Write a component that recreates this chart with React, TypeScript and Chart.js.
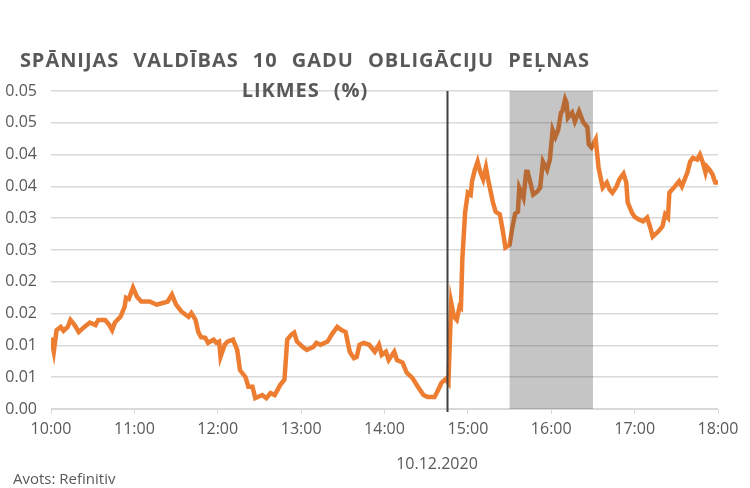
import React, { useEffect, useRef } from "react";
import { Chart, registerables } from "chart.js";

Chart.register(...registerables);

// minutes after 10:00 (10.12.2020)
const minutes = [
  0, 2, 4, 7, 9, 12, 14, 17, 20, 24, 28, 32, 34, 39, 42, 44, 46, 50, 53, 54, 56, 59, 62, 65, 71, 76, 81, 84, 87, 90,
  94, 99, 101, 104, 106, 108, 111, 113, 117, 119, 121, 122, 125, 127, 131, 134, 136, 140, 142, 145, 147, 152, 155,
  158, 161, 165, 168, 170, 173, 175, 177, 181, 184, 189, 191, 194, 199, 202, 206, 209, 212, 215, 218, 220, 222, 225,
  229, 233, 236, 238, 241, 243, 247, 249, 253, 256, 260, 264, 268, 271, 276, 278, 281, 284, 286, 288, 290, 292, 294,
  295, 296, 298, 300, 302, 303, 305, 307, 309, 311, 313, 315, 318, 320, 323, 325, 327, 330, 332, 334, 336, 337, 340,
  342, 343, 345, 347, 350, 352, 354, 357, 359, 361, 363, 365, 367, 368, 370, 371, 372, 375, 377, 380, 383, 386, 387,
  389, 392, 394, 397, 400, 402, 404, 407, 409, 412, 414, 415, 418, 420, 423, 426, 429, 431, 433, 437, 440, 442, 444,
  445, 449, 452, 454, 456, 458, 460, 462, 465, 467, 469, 471, 472, 474, 476, 478, 480,
];

const yields = [
  0.0112, 0.009, 0.0124, 0.0129, 0.0123, 0.0129, 0.014, 0.0132, 0.0121, 0.0129, 0.0136, 0.0132, 0.014, 0.014, 0.0132,
  0.0124, 0.0136, 0.0145, 0.0161, 0.0175, 0.0173, 0.0191, 0.0176, 0.0169, 0.0169, 0.0164, 0.0167, 0.0169, 0.018,
  0.0164, 0.0153, 0.0145, 0.0151, 0.014, 0.0121, 0.0113, 0.0112, 0.0104, 0.0109, 0.0104, 0.0106, 0.0082, 0.0101,
  0.0106, 0.0109, 0.0093, 0.0061, 0.005, 0.0035, 0.0035, 0.0017, 0.0022, 0.0017, 0.0025, 0.0022, 0.0038, 0.0046,
  0.0109, 0.0117, 0.012, 0.0106, 0.0098, 0.0093, 0.0098, 0.0104, 0.0101, 0.0106, 0.0117, 0.0129, 0.0124, 0.0121,
  0.009, 0.008, 0.0082, 0.0101, 0.0104, 0.0101, 0.009, 0.0101, 0.0085, 0.009, 0.0077, 0.009, 0.0077, 0.0073, 0.0057,
  0.0049, 0.0035, 0.0022, 0.0019, 0.0019, 0.0027, 0.0041, 0.0047, 0.0041, 0.0167, 0.0145, 0.014, 0.0161, 0.0159,
  0.0235, 0.0309, 0.034, 0.0337, 0.0358, 0.0376, 0.0389, 0.0372, 0.0361, 0.038, 0.0356, 0.0325, 0.031, 0.0306,
  0.0282, 0.0254, 0.0258, 0.0285, 0.0307, 0.031, 0.0348, 0.0332, 0.0373, 0.0373, 0.0356, 0.0337, 0.0342, 0.0348,
  0.0389, 0.0376, 0.0392, 0.0439, 0.0428, 0.0439, 0.0466, 0.0468, 0.0487, 0.0482, 0.0458, 0.0466, 0.0452, 0.0468,
  0.0451, 0.0443, 0.0416, 0.0411, 0.0424, 0.038, 0.0348, 0.0356, 0.0345, 0.034, 0.035, 0.0361, 0.037, 0.0356,
  0.0325, 0.0309, 0.0302, 0.0298, 0.0295, 0.0301, 0.0287, 0.0271, 0.0279, 0.0287, 0.0306, 0.0301, 0.034, 0.035,
  0.0358, 0.035, 0.0361, 0.0372, 0.0389, 0.0395, 0.0392, 0.04, 0.0388, 0.0372, 0.0381, 0.0376, 0.0369, 0.0356,
  0.0356,
];

const xTickLabels = ["10:00", "11:00", "12:00", "13:00", "14:00", "15:00", "16:00", "17:00", "18:00"];
const yTickLabels = ["0.00", "0.01", "0.01", "0.02", "0.02", "0.03", "0.03", "0.04", "0.04", "0.05", "0.05"];

const markerMinute = 285; // 14:45
const bandStart = 330; // 15:30
const bandEnd = 390; // 16:30

const titleLine1 = "SPĀNIJAS VALDĪBAS 10 GADU OBLIGĀCIJU PEĻNAS";
const titleLine2 = "LIKMES (%)";
const dateLabel = "10.12.2020";
const sourceLabel = "Avots: Refinitiv";

const overlayPlugin = {
  id: "overlay",
  afterDatasetsDraw(chart: any) {
    const { ctx, chartArea, scales } = chart;
    const x = scales.x;
    ctx.save();
    const b0 = x.getPixelForValue(bandStart);
    const b1 = x.getPixelForValue(bandEnd);
    ctx.fillStyle = "rgba(64,64,64,0.3)";
    ctx.fillRect(b0, chartArea.top, b1 - b0, chartArea.bottom - chartArea.top);
    const m = Math.round(x.getPixelForValue(markerMinute)) + 0.5;
    ctx.strokeStyle = "#404040";
    ctx.lineWidth = 2;
    ctx.beginPath();
    ctx.moveTo(m, chartArea.top);
    ctx.lineTo(m, chartArea.bottom + 3);
    ctx.stroke();
    ctx.restore();
  },
};

export default function App() {
  const ref = useRef<HTMLCanvasElement>(null);

  useEffect(() => {
    if (!ref.current) return;
    const tickFont = { family: "'Open Sans', sans-serif", size: 16 };
    const chart = new Chart(ref.current, {
      type: "line",
      data: {
        datasets: [
          {
            data: minutes.map((m, i) => ({ x: m, y: yields[i] })),
            borderColor: "#ED7D31",
            borderWidth: 4.5,
            pointRadius: 0,
            tension: 0,
            fill: false,
          },
        ],
      },
      options: {
        responsive: false,
        animation: false,
        devicePixelRatio: 1,
        layout: { padding: { top: 91, right: 32, left: 0, bottom: 0 } },
        plugins: { legend: { display: false }, tooltip: { enabled: false }, title: { display: false } },
        scales: {
          x: {
            type: "linear",
            min: 0,
            max: 480,
            afterFit: (s: any) => {
              s.height = 79;
            },
            ticks: {
              stepSize: 60,
              autoSkip: false,
              maxRotation: 0,
              padding: 6,
              color: "#595959",
              font: tickFont,
              callback: (_v: any, i: number) => xTickLabels[i],
            },
            grid: { drawOnChartArea: false, drawTicks: true, tickLength: 5, color: "#d9d9d9" },
            border: { color: "#d9d9d9" },
          },
          y: {
            min: 0,
            max: 0.05,
            afterFit: (s: any) => {
              s.width = 51;
            },
            ticks: {
              stepSize: 0.005,
              padding: 14,
              color: "#595959",
              font: tickFont,
              callback: (_v: any, i: number) => yTickLabels[i],
            },
            grid: { color: "#d9d9d9", lineWidth: 1.5, drawTicks: false },
            border: { display: false },
          },
        },
      },
      plugins: [overlayPlugin],
    });
    return () => chart.destroy();
  }, []);

  const textColor = "#595959";
  return (
    <div style={{ position: "fixed", left: 0, top: 0, width: 750, height: 488, background: "#fff", overflow: "hidden" }}>
      <canvas ref={ref} width={750} height={488} style={{ position: "absolute", left: 0, top: 0 }} />
      <div
        style={{
          position: "absolute",
          left: 0,
          top: 45,
          width: 610,
          textAlign: "center",
          fontFamily: "'Open Sans', sans-serif",
          fontWeight: 700,
          fontSize: 20,
          lineHeight: "30px",
          letterSpacing: 0.95,
          wordSpacing: 8,
          color: textColor,
          whiteSpace: "nowrap",
        }}
      >
        <div>{titleLine1}</div>
        <div>{titleLine2}</div>
      </div>
      <div
        style={{
          position: "absolute",
          left: 337,
          top: 452,
          width: 200,
          textAlign: "center",
          fontFamily: "'Open Sans', sans-serif",
          fontSize: 16,
          lineHeight: "22px",
          color: textColor,
        }}
      >
        {dateLabel}
      </div>
      <div
        style={{
          position: "absolute",
          left: 13,
          top: 467,
          fontFamily: "'Open Sans', sans-serif",
          fontSize: 15,
          lineHeight: "22px",
          color: textColor,
        }}
      >
        {sourceLabel}
      </div>
    </div>
  );
}
